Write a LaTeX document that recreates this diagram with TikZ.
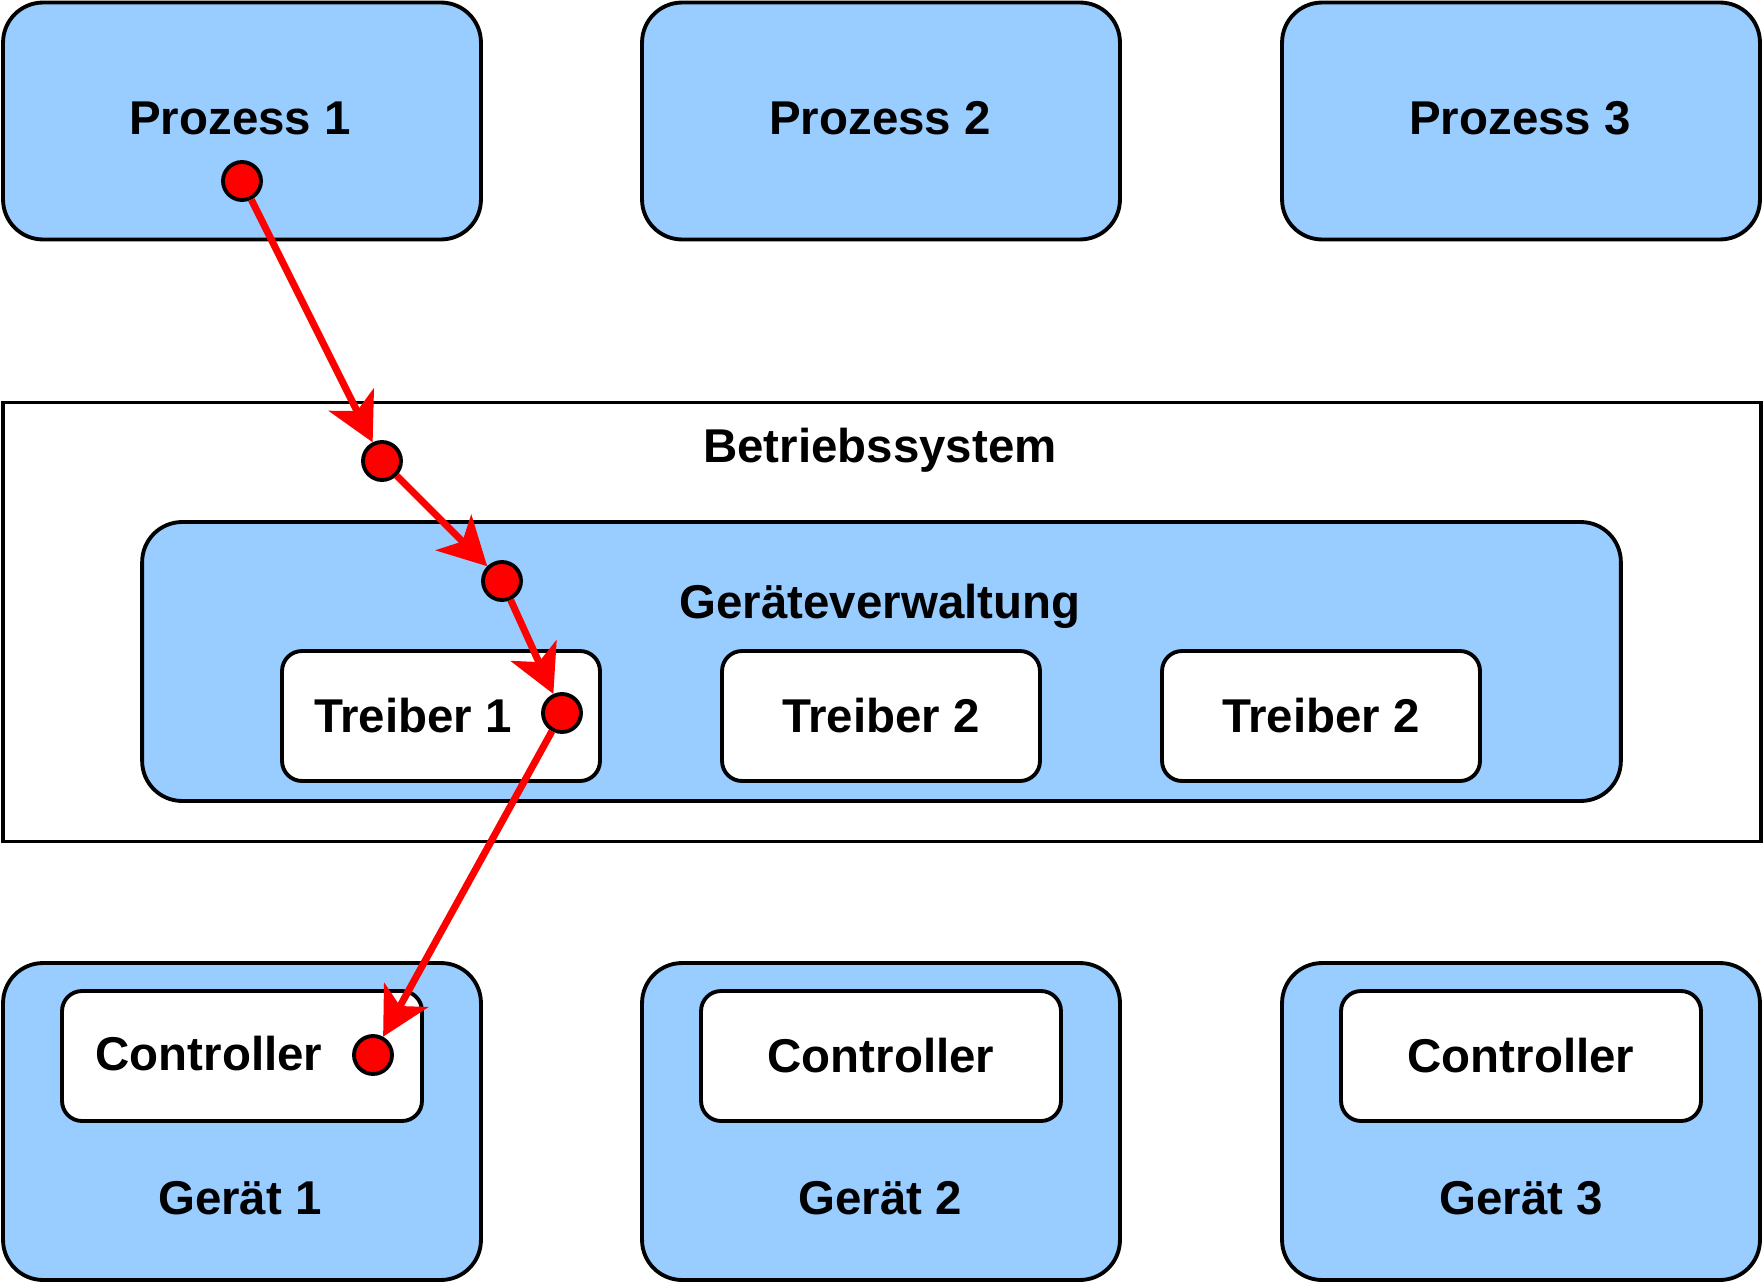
\documentclass[tikz,border=0pt]{standalone}
\usepackage{fontspec}
\setmainfont{Liberation Sans}
\usetikzlibrary{arrows.meta,positioning}
\definecolor{osblue}{RGB}{153,204,255}
\definecolor{sigred}{RGB}{255,0,0}

\begin{document}
\begin{tikzpicture}[
    x=0.02cm, y=-0.02cm,
    font=\fontsize{27}{32}\selectfont\bfseries,
    big/.style={draw, line width=2.2pt, rounded corners=0.8cm, fill=osblue, minimum width=9.56cm, minimum height=4.74cm},
    dev/.style={big, minimum height=6.34cm},
    drv/.style={draw, line width=2.2pt, rounded corners=0.4cm, fill=white, minimum width=6.36cm, minimum height=2.6cm},
    ctl/.style={drv, minimum width=7.2cm},
    dot/.style={circle, draw, line width=2.2pt, fill=sigred, minimum size=0.76cm, inner sep=0pt},
    arr/.style={-{Stealth[length=9.5mm, width=10mm, inset=2.5mm]}, line width=4pt, color=sigred}
  ]
    \useasboundingbox (0,0) rectangle (1764,1284);
    % Prozesse
    \node[big] (p1) at (242,121) {};
    \node[big] (p2) at (881,121) {};
    \node[big] (p3) at (1521,121) {};
    \node (p1label) at (240,118) {Prozess 1};
    \node (p2label) at (880,118) {Prozess 2};
    \node (p3label) at (1520,118) {Prozess 3};
    % Betriebssystem
    \node[draw, line width=2.2pt, fill=white, minimum width=35.16cm, minimum height=8.78cm] (os) at (882,622) {};
    \node (oslabel) at (880,450) {Betriebssystem};
    \node[draw, line width=2.2pt, rounded corners=0.8cm, fill=osblue, minimum width=29.58cm, minimum height=5.58cm] (gv) at (881.5,661.5) {};
    \node (gvlabel) at (880,606) {Geräteverwaltung};
    \node[drv] (t1) at (441,716) {};
    \node (t1label) at (413,716) {Treiber 1};
    \node[drv] (t2) at (881,716) {Treiber 2};
    \node[drv] (t3) at (1321,716) {Treiber 2};
    % Geräte
    \node[dev] (g1) at (242,1121.5) {};
    \node[dev] (g2) at (881,1121.5) {};
    \node[dev] (g3) at (1521,1121.5) {};
    \node[ctl] (c1) at (242,1056) {};
    \node (c1label) at (209,1054) {Controller};
    \node[ctl] (c2) at (881,1056) {Controller};
    \node[ctl] (c3) at (1521,1056) {Controller};
    \node (g1label) at (240,1198) {Gerät 1};
    \node (g2label) at (880,1198) {Gerät 2};
    \node (g3label) at (1521,1198) {Gerät 3};
    % Weg des Aufrufs
    \node[dot] (d1) at (242,181) {};
    \node[dot] (d2) at (382,461) {};
    \node[dot] (d3) at (502,581) {};
    \node[dot] (d4) at (562,713) {};
    \node[dot] (d5) at (373,1055) {};
    \draw[arr] (d1) -- (d2);
    \draw[arr] (d2) -- (d3);
    \draw[arr] (d3) -- (d4);
    \draw[arr] (d4) -- (d5);
\end{tikzpicture}
\end{document}
